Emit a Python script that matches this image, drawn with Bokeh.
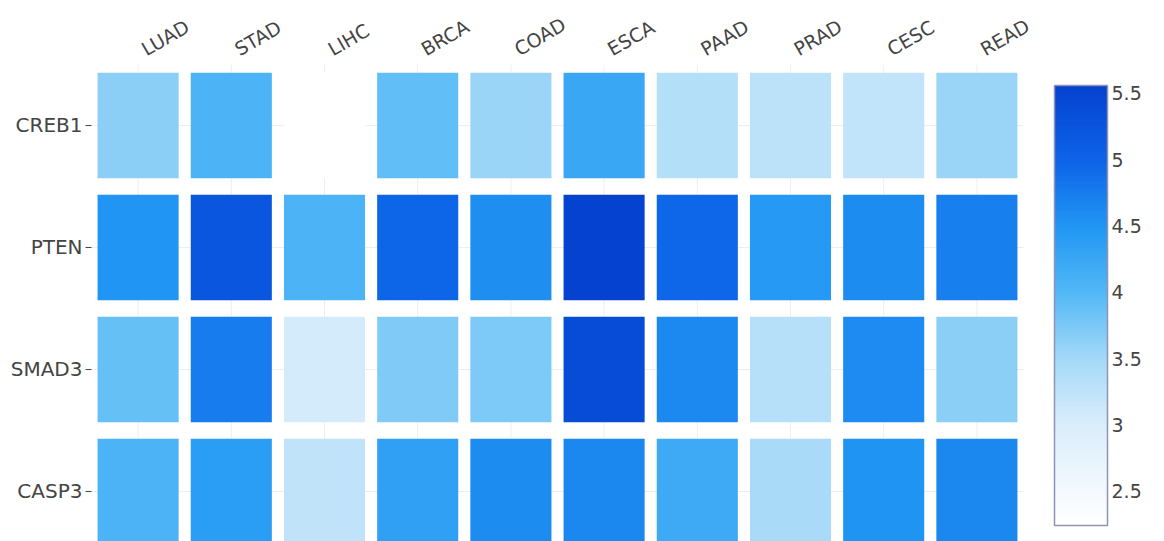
import numpy as np
from bokeh.plotting import figure
from bokeh.models import (ColumnDataSource, LinearColorMapper, ColorBar, FixedTicker,
                          Range1d, CustomJSTickFormatter, LinearAxis)
from bokeh.embed import file_html
from bokeh.resources import INLINE

# Expression levels per gene (rows) and cancer type (columns)
cancers = ["LUAD", "STAD", "LIHC", "BRCA", "COAD", "ESCA", "PAAD", "PRAD", "CESC", "READ"]
genes = ["CREB1", "PTEN", "SMAD3", "CASP3"]

creb1 = [3.65, 4.07, 2.24, 3.90, 3.55, 4.25, 3.35, 3.28, 3.22, 3.56]
pten = [4.50, 5.22, 4.07, 4.98, 4.57, 5.56, 4.97, 4.45, 4.60, 4.72]
smad3 = [3.88, 4.75, 3.06, 3.72, 3.74, 5.38, 4.62, 3.34, 4.61, 3.65]
casp3 = [4.07, 4.40, 3.25, 4.35, 4.60, 4.63, 4.20, 3.45, 4.52, 4.63]

colorbar_ticks = [2.5, 3.0, 3.5, 4.0, 4.5, 5.0, 5.5]

rows = [creb1, pten, smad3, casp3]

# Blue colour scale: white -> light blue -> blue -> deep blue
stops = [(0.00, "#ffffff"), (0.08, "#f3f9fe"), (0.23, "#daedfb"), (0.38, "#a3d9f8"),
         (0.53, "#52b8f6"), (0.68, "#2196f3"), (0.83, "#0d64e8"), (1.00, "#0542cf")]


def hex_rgb(h):
    return [int(h[i:i + 2], 16) for i in (1, 3, 5)]


pos = np.array([s[0] for s in stops])
rgb = np.array([hex_rgb(s[1]) for s in stops], dtype=float)
t = np.linspace(0, 1, 256)
palette = []
for v in t:
    c = [np.interp(v, pos, rgb[:, k]) for k in range(3)]
    palette.append("#%02x%02x%02x" % tuple(int(round(x)) for x in c))

xs, ys, vals = [], [], []
for gi, row in enumerate(rows):
    for ci, v in enumerate(row):
        xs.append(ci)
        ys.append(gi)
        vals.append(v)
src = ColumnDataSource(dict(x=xs, y=ys, v=vals))

all_vals = np.array(vals)
mapper = LinearColorMapper(palette=palette, low=float(all_vals.min()), high=float(all_vals.max()))

col_px = 93.2
row_px = 122.5
W, H = 1164, 541
left, top = 91, 62
frame_w = W - left
frame_h = H - top

x_end = -0.5 + frame_w / col_px
y_bottom = -0.5 + frame_h / row_px

p = figure(width=W, height=H, output_backend="svg", toolbar_location=None,
           x_range=Range1d(-0.5, x_end), y_range=Range1d(y_bottom, -0.5),
           x_axis_location=None, min_border_left=left, min_border_top=top,
           min_border_right=0, min_border_bottom=0)
p.outline_line_color = None
p.background_fill_color = "white"
p.border_fill_color = "white"
p.xgrid.visible = False
p.ygrid.visible = False

# column labels sit slightly to the right of the cell centres
label_shift = 5 / col_px
p.extra_x_ranges = {"labels": Range1d(-0.5 - label_shift, x_end - label_shift)}

# faint grid lines through the cell centres, behind the cells
n_c, n_g = len(cancers), len(genes)
p.segment(x0=[-0.5] * n_g, x1=[n_c - 0.5] * n_g, y0=list(range(n_g)), y1=list(range(n_g)),
          line_color="#eeeeee", line_width=1)
p.segment(x0=list(range(n_c)), x1=list(range(n_c)), y0=[-0.5] * n_c, y1=[n_g - 0.5] * n_c,
          line_color="#eeeeee", line_width=1)

p.rect(x="x", y="y", width=0.87, height=0.865, source=src,
       fill_color={"field": "v", "transform": mapper}, line_color=None)

font = "DejaVu Sans"

xa = LinearAxis(x_range_name="labels")
xa.ticker = FixedTicker(ticks=list(range(n_c)))
xa.major_label_overrides = {i: c for i, c in enumerate(cancers)}
xa.major_label_orientation = np.pi / 6
xa.major_tick_line_color = None
xa.minor_tick_line_color = None
xa.axis_line_color = None
xa.major_label_standoff = 8
xa.major_label_text_font = font
xa.major_label_text_font_size = "19px"
xa.major_label_text_color = "#444444"
p.add_layout(xa, "above")

ya = p.yaxis[0]
ya.ticker = FixedTicker(ticks=list(range(n_g)))
ya.major_label_overrides = {i: g for i, g in enumerate(genes)}
ya.major_tick_out = 6
ya.major_tick_in = 0
ya.major_tick_line_color = "#444444"
ya.minor_tick_line_color = None
ya.axis_line_color = None
ya.major_label_standoff = 3
ya.major_label_text_font = font
ya.major_label_text_font_size = "20px"
ya.major_label_text_color = "#444444"

cb = ColorBar(color_mapper=mapper, location=(963, 16), width=53, height=440,
              padding=0, margin=0,
              ticker=FixedTicker(ticks=colorbar_ticks),
              formatter=CustomJSTickFormatter(code="return String(tick)"),
              major_label_text_font=font, major_label_text_font_size="19px",
              major_label_text_color="#444444", major_tick_line_color=None,
              minor_tick_line_color=None, label_standoff=4,
              bar_line_color="#8f93b5", bar_line_width=1.5,
              background_fill_color=None, border_line_color=None)
p.add_layout(cb, "center")

open("out.html", "w").write(file_html(p, INLINE))
